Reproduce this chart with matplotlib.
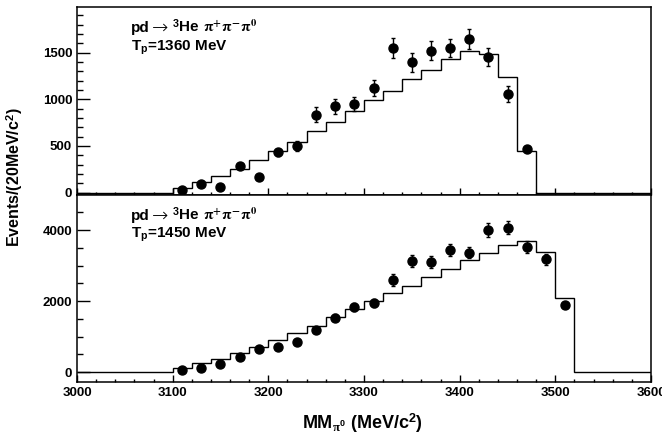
import numpy as np
import matplotlib
matplotlib.use('Agg')
import matplotlib.pyplot as plt
from matplotlib.ticker import MultipleLocator

plt.rcParams['font.family'] = ['Liberation Sans', 'DejaVu Sans']
plt.rcParams['font.weight'] = 'bold'
plt.rcParams['mathtext.fontset'] = 'custom'
plt.rcParams['mathtext.rm'] = 'Liberation Sans:bold'
plt.rcParams['mathtext.bf'] = 'Liberation Sans:bold'
plt.rcParams['mathtext.it'] = 'Liberation Serif'

# binning (20 MeV/c^2)
edges = np.arange(3000, 3620, 20)

# Tp = 1360 MeV
sim_1360 = [0, 0, 0, 0, 0, 50, 110, 175, 257, 350, 443, 540, 657, 760, 879,
            989, 1093, 1218, 1311, 1436, 1521, 1489, 1240, 450, 0, 0, 0, 0, 0, 0]
x_1360 = [3110, 3130, 3150, 3170, 3190, 3210, 3230, 3250, 3270, 3290,
          3310, 3330, 3350, 3370, 3390, 3410, 3430, 3450, 3470]
y_1360 = [25, 93, 61, 289, 164, 432, 496, 836, 925, 950,
          1122, 1551, 1397, 1521, 1551, 1646, 1457, 1054, 468]
e_1360 = [10, 15, 15, 30, 25, 40, 53, 82, 82, 80,
          89, 107, 100, 100, 100, 107, 98, 85, 30]

# Tp = 1450 MeV
sim_1450 = [0, 0, 0, 0, 0, 121, 245, 357, 526, 695, 901, 1089, 1305, 1558, 1784,
            2000, 2235, 2422, 2685, 2901, 3146, 3362, 3568, 3690, 3390, 2075, 0, 0, 0, 0]
x_1450 = [3110, 3130, 3150, 3170, 3190, 3210, 3230, 3250, 3270, 3290, 3310,
          3330, 3350, 3370, 3390, 3410, 3430, 3450, 3470, 3490, 3510]
y_1450 = [56, 103, 216, 432, 639, 714, 855, 1183, 1531, 1840, 1934,
          2592, 3127, 3108, 3427, 3362, 4000, 4066, 3512, 3174, 1887]
e_1450 = [30, 40, 50, 60, 70, 70, 80, 90, 100, 110, 110,
          178, 170, 170, 170, 160, 188, 188, 170, 160, 80]

fig = plt.figure(figsize=(6.62, 4.37), dpi=100)
ax1 = fig.add_axes([0.1163, 0.554, 0.8671, 0.430])
ax2 = fig.add_axes([0.1163, 0.1259, 0.8671, 0.4281])

panels = [
    (ax1, sim_1360, x_1360, y_1360, e_1360, '1360', (-25, 1990), 500, 100),
    (ax2, sim_1450, x_1450, y_1450, e_1450, '1450', (-280, 4990), 2000, 500),
]


def text_right(ax, t):
    # right edge of a text in axes fraction
    fig.canvas.draw()
    bb = t.get_window_extent()
    return ax.transAxes.inverted().transform((bb.x1, bb.y0))[0]


for ax, sim, xd, yd, ed, tp, ylim, ymaj, ymin in panels:
    ax.stairs(sim, edges, color='black', lw=1.0)
    ax.errorbar(xd, yd, yerr=ed, fmt='o', color='black', ms=6.5,
                elinewidth=1.0, capsize=1.5, capthick=1.0)
    ax.set_xlim(3000, 3600)
    ax.set_ylim(*ylim)
    ax.xaxis.set_major_locator(MultipleLocator(100))
    ax.xaxis.set_minor_locator(MultipleLocator(20))
    ax.yaxis.set_major_locator(MultipleLocator(ymaj))
    ax.yaxis.set_minor_locator(MultipleLocator(ymin))
    ax.tick_params(axis='both', which='both', direction='in', top=False, right=False,
                   labelsize=9.5, width=1.0)
    ax.tick_params(axis='y', which='major', length=9)
    ax.tick_params(axis='y', which='minor', length=4.5)
    ax.tick_params(axis='x', which='major', length=5)
    ax.tick_params(axis='x', which='minor', length=2.5)
    for s in ax.spines.values():
        s.set_linewidth(1.1)

    y0 = 0.868
    t1 = ax.text(0.094, y0, 'pd', transform=ax.transAxes, fontsize=11,
                 fontweight='bold', va='baseline')
    xa = text_right(ax, t1) + 0.004
    t2 = ax.text(xa, y0 - 0.006, '\u2192', transform=ax.transAxes, fontsize=14,
                 fontweight='light', family='DejaVu Sans', va='baseline')
    xb = text_right(ax, t2) + 0.006
    t3 = ax.text(xb, y0, r'$^{3}$He', transform=ax.transAxes, fontsize=11,
                 fontweight='bold', va='baseline')
    xc = text_right(ax, t3) + 0.006
    ax.text(xc, y0, r'$\mathrm{\pi}^{+}\mathrm{\pi}^{-}\mathrm{\pi}^{0}$',
            transform=ax.transAxes, fontsize=11, va='baseline',
            math_fontfamily='stix')
    ax.text(0.094, 0.768, r'T$_{\rm p}$=' + tp + ' MeV',
            transform=ax.transAxes, fontsize=11, fontweight='bold', va='baseline')

ax1.tick_params(axis='x', labelbottom=False)

fig.text(0.022, 0.595, r'Events/(20MeV/c$^{2}$)', rotation=90, fontsize=11.5,
         fontweight='bold', ha='center', va='center')
fig.text(0.548, 0.032, r'MM$_{\pi^{0}}$ (MeV/c$^{2}$)', fontsize=13,
         fontweight='bold', ha='center', va='center')

fig.savefig('out.png', dpi=100)
